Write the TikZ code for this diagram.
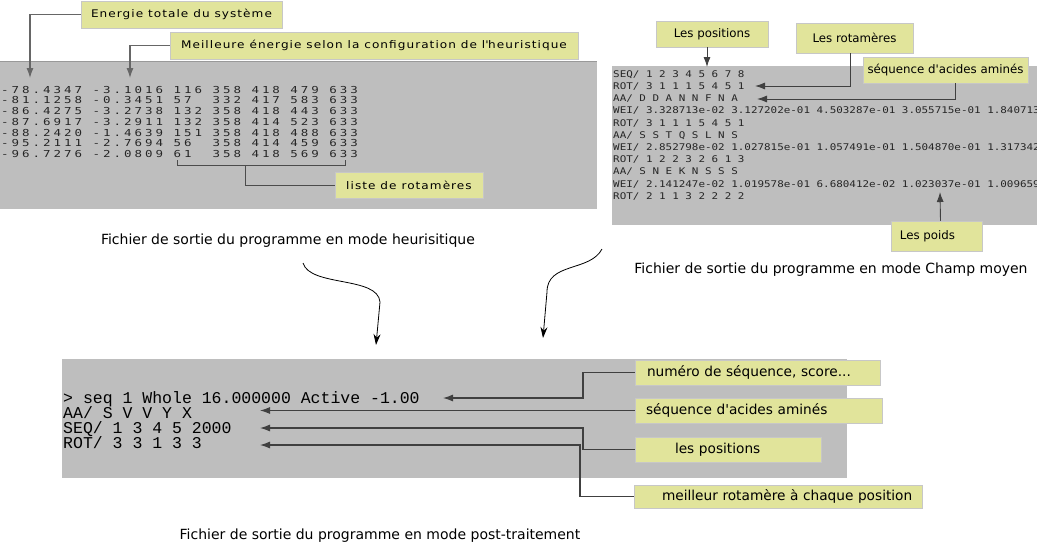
\documentclass[tikz,border=0pt]{standalone}
\usepackage{fontspec}
\setmainfont{DejaVu Sans}
\newfontfamily\widefont[FakeStretch=1.15,LetterSpace=10]{DejaVu Sans}
\newfontfamily\heurfont[FakeStretch=1.3,LetterSpace=31]{DejaVu Sans Mono}
\newfontfamily\cmfont[FakeStretch=1.185]{DejaVu Sans Mono}
\newfontfamily\postfont{Liberation Mono}
\usetikzlibrary{matrix,positioning,arrows.meta}
\definecolor{boxgray}{RGB}{190,190,190}
\definecolor{notefill}{RGB}{225,228,155}
\tikzset{
codemat/.style={
  matrix of nodes,
  inner sep=0pt,
  row sep=0pt,
  nodes={anchor=base west, inner sep=0pt}
  },
heurcode/.style={nodes={font=\heurfont\fontsize{9.6}{10.7}\selectfont,
  text height=8pt, text depth=2.7pt, text=black!85}},
cmcode/.style={nodes={font=\cmfont\fontsize{9.2}{12.2}\selectfont,
  text height=8.5pt, text depth=3.7pt, text=black!85}},
postcode/.style={nodes={font=\postfont\fontsize{16.5}{15}\selectfont,
  text height=11pt, text depth=4pt}},
graybox/.style={fill=boxgray},
note/.style={fill=notefill, draw=black!22, line width=0.5pt, inner sep=0pt},
topnote/.style={note, font=\widefont\fontsize{10.5}{12}\selectfont},
sidenote/.style={note, font=\fontsize{11.8}{13}\selectfont},
botnote/.style={note, align=left, inner xsep=0pt,
  font=\fontsize{13.7}{16}\selectfont},
caption/.style={font=\fontsize{14}{16}\selectfont, inner sep=0pt},
link/.style={draw=black!75, line width=1.1pt, -{Latex[length=10pt,width=7pt]}},
bar/.style={draw=black!70, line width=1pt},
flow/.style={draw=black, line width=0.8pt, -{Stealth[length=11pt,width=7pt]}}
}

\begin{document}
\begin{tikzpicture}[x=1pt,y=-1pt,>=latex]
\useasboundingbox (0,0) rectangle (1037,544);

% sortie heuristique
\fill[graybox] (0,61) rectangle (597,209);
\draw[black!40, line width=0.8pt] (0,61) -- (597,61);

\matrix[codemat, heurcode, anchor=north west]
at (1,85)
(heur-mat)
{
  -78.4347 -3.1016 116 358 418 479 633 \\
  -81.1258 -0.3451 57~ 332 417 583 633 \\
  -86.4275 -3.2738 132 358 418 443 633 \\
  -87.6917 -3.2911 132 358 414 523 633 \\
  -88.2420 -1.4639 151 358 418 488 633 \\
  -95.2111 -2.7694 56~ 358 414 459 633 \\
  -96.7276 -2.0809 61~ 358 418 569 633 \\
};

\node[topnote, minimum width=201pt, minimum height=27pt] (etot) at (181.5,14.5)
  {Energie totale du système};
\coordinate (etot-tip) at (30,78);
\draw[link, draw=black!60] (etot.west) -| (etot-tip);

\node[topnote, minimum width=408pt, minimum height=27pt] (best-en) at (374,45.5)
  {Meilleure énergie selon la configuration de l\textquotesingle heuristique};
\coordinate (best-en-tip) at (130,78);
\draw[link, draw=black!60] (best-en.west) -| (best-en-tip);

\node[topnote, minimum width=148pt, minimum height=26pt] (rot-list) at (409,185)
  {liste de rotamères};
\draw[bar] (177,160) -- (177,165) -- (345,165) -- (345,160);
\coordinate (rot-list-mid) at (245,165);
\draw[bar] (rot-list-mid) |- (rot-list.west);

\node[caption] (heur-cap) at (288,241)
  {Fichier de sortie du programme en mode heurisitique};

% sortie champ moyen
\fill[graybox] (612,66) rectangle (1037,225);
\begin{scope}
\clip (612,66) rectangle (1037,225);
\matrix[codemat, cmcode, anchor=north west]
at (613,68.5)
(cm-mat)
{
  SEQ/ 1 2 3 4 5 6 7 8 \\
  ROT/ 3 1 1 1 5 4 5 1 \\
  AA/ D D A N N F N A \\
  WEI/ 3.328713e-02 3.127202e-01 4.503287e-01 3.055715e-01 1.840713e-01 \\
  ROT/ 3 1 1 1 5 4 5 1 \\
  AA/ S S T Q S L N S \\
  WEI/ 2.852798e-02 1.027815e-01 1.057491e-01 1.504870e-01 1.317342e-01 \\
  ROT/ 1 2 2 3 2 6 1 3 \\
  AA/ S N E K N S S S \\
  WEI/ 2.141247e-02 1.019578e-01 6.680412e-02 1.023037e-01 1.009659e-01 \\
  ROT/ 2 1 1 3 2 2 2 2 \\
};
\end{scope}

\node[sidenote, minimum width=112pt, minimum height=26pt] (cm-pos) at (712,34)
  {Les positions};
\coordinate (cm-pos-tip) at (707,67);
\draw[link, line width=0.9pt] ([xshift=-5pt]cm-pos.south) -- (cm-pos-tip);

\node[sidenote, minimum width=117pt, minimum height=30pt] (cm-rot) at (854.5,38)
  {Les rotamères};
\coordinate (cm-rot-tip) at (755,86);
\draw[link, line width=0.9pt] ([xshift=-4pt]cm-rot.south) |- (cm-rot-tip);

\node[sidenote, minimum width=165pt, minimum height=26pt] (cm-aa) at (945.5,70)
  {séquence d\textquotesingle acides aminés};
\coordinate (cm-aa-tip) at (757,99);
\draw[link, line width=0.9pt] ([xshift=10pt]cm-aa.south) |- (cm-aa-tip);

\node[sidenote, minimum width=91pt, minimum height=30pt] (cm-wei) at (936.5,236)
  {Les poids\hspace*{18pt}};
\coordinate (cm-wei-tip) at (940,192);
\draw[link, line width=0.9pt] ([xshift=4pt]cm-wei.north) -- (cm-wei-tip);

\node[caption] (cm-cap) at (831,270)
  {Fichier de sortie du programme en mode Champ moyen};

% vers le post-traitement
\coordinate (heur-out) at (303,263);
\coordinate (post-in-l) at (376,345);
\draw[flow] (heur-out) .. controls (310,287) and (378,276) .. (380,302) -- (post-in-l);

\coordinate (cm-out) at (602,249);
\coordinate (post-in-r) at (543,338);
\draw[flow] (cm-out) .. controls (590,272) and (547,262) .. (547,292) -- (post-in-r);

% sortie post-traitement
\fill[graybox] (62,359) rectangle (847,478);

\matrix[codemat, postcode, anchor=north west]
at (63,392)
(post-mat)
{
  > seq 1 Whole 16.000000 Active -1.00 \\
  AA/ S V V Y X \\
  SEQ/ 1 3 4 5 2000 \\
  ROT/ 3 3 1 3 3 \\
};

\node[botnote, text width=245pt, minimum height=25pt] (post-num) at (757.5,372.5)
  {\hspace*{12pt}numéro de séquence, score...};
\node[botnote, text width=247pt, minimum height=25pt] (post-aa) at (758.5,410.5)
  {\hspace*{11pt}séquence d\textquotesingle acides aminés};
\node[botnote, text width=186pt, minimum height=25pt] (post-pos) at (728,449.5)
  {\hspace*{40pt}les positions};
\node[botnote, text width=288pt, minimum height=23pt] (post-best) at (778,496.5)
  {\hspace*{28pt}meilleur rotamère à chaque position};

\coordinate (num-knee) at (583,398);
\coordinate (num-tip) at (443,398);
\draw[link] (post-num.west) -| (num-knee) -- (num-tip);

\coordinate (aa-tip) at (260,410.5);
\draw[link] (post-aa.west) -- (aa-tip);

\coordinate (pos-knee) at (583,428);
\coordinate (pos-tip) at (260,428);
\draw[link] (post-pos.west) -| (pos-knee) -- (pos-tip);

\coordinate (best-knee) at (580,445);
\coordinate (best-tip) at (260,445);
\draw[link] (post-best.west) -| (best-knee) -- (best-tip);

\node[caption] (post-cap) at (380,536)
  {Fichier de sortie du programme en mode post-traitement};

\end{tikzpicture}
\end{document}
